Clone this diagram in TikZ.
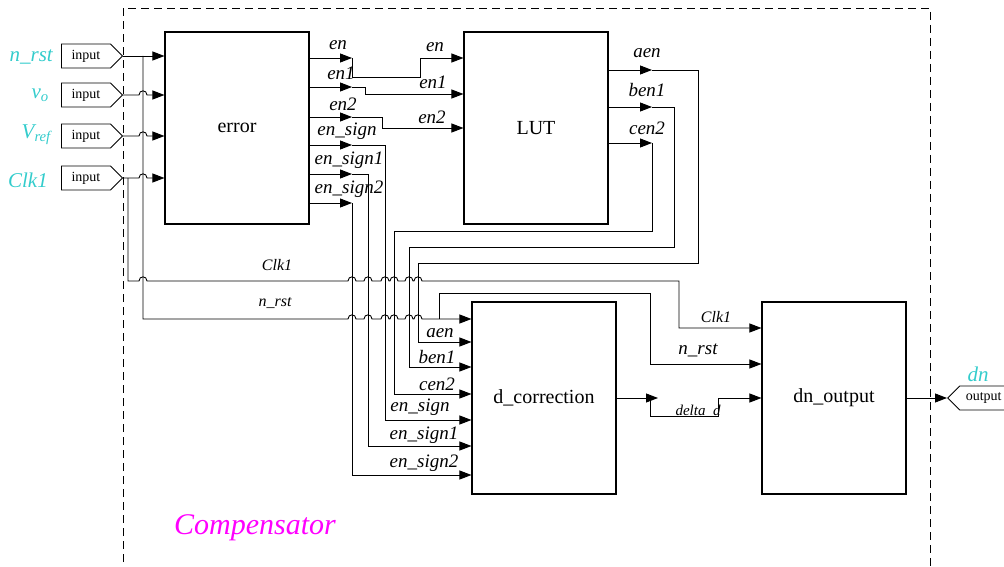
\documentclass[tikz,border=0pt]{standalone}
\usepackage{fontspec}
\setmainfont{Liberation Serif}
\usetikzlibrary{arrows.meta,shapes.symbols}
\definecolor{portcyan}{RGB}{51,204,204}
\definecolor{magentac}{RGB}{255,0,255}
\tikzset{
  blk/.style={draw, line width=1.1pt, minimum width=144pt, minimum height=192pt, inner sep=0pt, font=\fontsize{20}{24}\selectfont},
  wire/.style={line width=0.9pt},
  arr/.style={wire, -{Triangle[length=12pt,width=9pt]}},
  sig/.style={font=\itshape\fontsize{19}{22}\selectfont, inner sep=0pt},
  msig/.style={font=\itshape\fontsize{16}{19}\selectfont, inner sep=0pt},
  inport/.style={draw, line width=0.9pt, shape=signal, signal to=east, signal pointer angle=90, minimum width=61pt, minimum height=24pt, inner sep=0pt, anchor=west, font=\fontsize{14}{16}\selectfont},
  outport/.style={draw, line width=0.9pt, shape=signal, signal to=west, signal pointer angle=90, minimum width=60pt, minimum height=24pt, inner sep=0pt, anchor=west, font=\fontsize{14}{16}\selectfont},
  portlab/.style={text=portcyan, font=\itshape\fontsize{21}{24}\selectfont, inner sep=0pt, anchor=east},
  jmp/.style 2 args={insert path={-- (#1-4,#2) .. controls (#1-4,#2-5.5) and (#1+4,#2-5.5) .. (#1+4,#2)}}
}
\begin{document}
\begin{tikzpicture}[x=1pt,y=-1pt]
\useasboundingbox (0,0) rectangle (1004,567);
% container
\draw[wire, dash pattern=on 8pt off 5pt] (123,575) -- (123,8) -- (930,8) -- (930,575);
\node[font=\itshape\fontsize{30}{34}\selectfont, text=magentac, inner sep=0pt] (comp) at (255,528) {Compensator};
% ports
\node[inport] (pn) at (61,56) {input};
\node[inport] (pv) at (61,95) {input};
\node[inport] (pr) at (61,136) {input};
\node[inport] (pc) at (61,178) {input};
\node[portlab] (ln) at (53,57) {n\_rst};
\node[portlab] (lv) at (49,95) {v\textsubscript{o}};
\node[portlab] (lr) at (51,135) {V\textsubscript{ref}};
\node[portlab] (lc) at (48,180) {Clk1};
% blocks
\node[blk] (error) at (237,128) {error};
\node[blk] (lut) at (536,128) {LUT};
\node[blk] (dc) at (544,398) {d\_correction};
\node[blk] (dno) at (834,398) {dn\_output};
\node[outport] (outp) at (947,398) {output};
\node[text=portcyan, font=\itshape\fontsize{21}{24}\selectfont, inner sep=0pt] (ldn) at (978,374) {dn};
% inputs into error
\draw[arr] (pn.east) -- (error.west |- pn.east);
\draw[arr] (pv.east) [jmp={143}{95}] -- (error.west |- pv.east);
\draw[arr] (pr.east) [jmp={143}{136}] -- (error.west |- pr.east);
\draw[arr] (pc.east) [jmp={143}{178}] -- (error.west |- pc.east);
\coordinate (jn) at (143,56);
\coordinate (jc) at (128,178);
\coordinate (jb) at (439,319);
% n_rst bus
\draw[arr] (jn) -- (143,319) [jmp={352}{319}] [jmp={368}{319}] [jmp={385}{319}] [jmp={394}{319}] [jmp={409}{319}] [jmp={418}{319}] -- (dc.west |- jb);
\draw[arr] (jb) -- (439,293) -- (650,293) -- (650,364) -- (dno.west |- 0,364);
% Clk1 bus
\draw[arr] (jc) -- (128,281) [jmp={143}{281}] [jmp={352}{281}] [jmp={368}{281}] [jmp={385}{281}] [jmp={394}{281}] [jmp={409}{281}] [jmp={418}{281}] -- (679,281) -- (679,328) -- (dno.west |- 0,328);
\node[msig] (lclk) at (277,265) {Clk1};
\node[msig] (lrst) at (275,303) {n\_rst};
% error outputs
\coordinate (oen) at (352,58);
\coordinate (oen1) at (352,87);
\coordinate (oen2) at (352,117);
\coordinate (oes) at (352,145);
\coordinate (oes1) at (352,174);
\coordinate (oes2) at (352,203);
\draw[arr] (error.east |- oen) -- (oen);
\draw[arr] (error.east |- oen1) -- (oen1);
\draw[arr] (error.east |- oen2) -- (oen2);
\draw[arr] (error.east |- oes) -- (oes);
\draw[arr] (error.east |- oes1) -- (oes1);
\draw[arr] (error.east |- oes2) -- (oes2);
\draw[arr] (oen) -- (352,77) -- (420,77) -- (420,58) -- (lut.west |- oen);
\draw[arr] (oen1) -- (365,87) -- (365,94) -- (lut.west |- 0,94);
\draw[arr] (oen2) -- (382,117) -- (382,128) -- (lut.west |- 0,128);
\draw[arr] (oes) -- (385,145) -- (385,420) -- (dc.west |- 0,420);
\draw[arr] (oes1) -- (368,174) -- (368,446) -- (dc.west |- 0,446);
\draw[arr] (oes2) -- (352,475) -- (dc.west |- 0,475);
\node[sig] (l1) at (338,45) {en};
\node[sig] (l2) at (341,73) {en1};
\node[sig] (l3) at (343,104) {en2};
\node[sig] (l4) at (347,131) {en\_sign};
\node[sig] (l5) at (349,160) {en\_sign1};
\node[sig] (l6) at (349,189) {en\_sign2};
\node[sig] (l7) at (435,47) {en};
\node[sig] (l8) at (433,82) {en1};
\node[sig] (l9) at (432,117) {en2};
% LUT outputs
\coordinate (oa) at (652,70);
\coordinate (ob) at (652,107);
\coordinate (oc) at (652,143);
\draw[arr] (lut.east |- oa) -- (oa);
\draw[arr] (lut.east |- ob) -- (ob);
\draw[arr] (lut.east |- oc) -- (oc);
\draw[arr] (oa) -- (698,70) -- (698,263) -- (418,263) -- (418,342) -- (dc.west |- 0,342);
\draw[arr] (ob) -- (674,107) -- (674,247) -- (409,247) -- (409,367) -- (dc.west |- 0,367);
\draw[arr] (oc) -- (652,231) -- (394,231) -- (394,394) -- (dc.west |- 0,394);
\node[sig] (l10) at (647,53) {aen};
\node[sig] (l11) at (647,90) {ben1};
\node[sig] (l12) at (647,128) {cen2};
% d_correction inputs labels
\node[sig] (l13) at (440,333) {aen};
\node[sig] (l14) at (437,357) {ben1};
\node[sig] (l15) at (437,384) {cen2};
\node[sig] (l16) at (420,407) {en\_sign};
\node[sig] (l17) at (424,435) {en\_sign1};
\node[sig] (l18) at (424,463) {en\_sign2};
% d_correction output
\coordinate (od) at (658,398);
\coordinate (odj) at (650,398);
\draw[arr] (dc.east |- od) -- (od);
\draw[arr] (odj) -- (650,416) -- (718,416) -- (718,398) -- (dno.west |- od);
\node[font=\itshape\fontsize{15}{18}\selectfont, inner sep=0pt] (l19) at (698,411) {delta\_d};
\node[msig] (l20) at (716,317) {Clk1};
\node[sig] (l21) at (698,350) {n\_rst};
% output
\draw[arr] (dno.east |- outp.west) -- (outp.west);
\end{tikzpicture}
\end{document}
